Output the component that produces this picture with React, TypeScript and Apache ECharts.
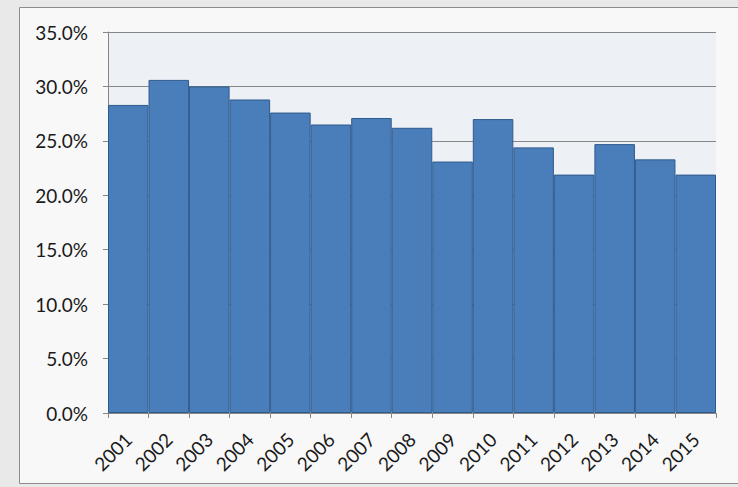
import React, { useEffect, useRef } from "react";
import * as echarts from "echarts";

const years = ["2001","2002","2003","2004","2005","2006","2007","2008","2009","2010","2011","2012","2013","2014","2015"];
const shares = [28.3, 30.6, 30.0, 28.8, 27.6, 26.5, 27.1, 26.2, 23.1, 27.0, 24.4, 21.9, 24.7, 23.3, 21.9];

export default function App() {
  const ref = useRef<HTMLDivElement>(null);
  useEffect(() => {
    const chart = echarts.init(ref.current!, null, { renderer: "svg" });
    chart.setOption({
      animation: false,
      backgroundColor: "#e9e9e9",
      graphic: [
        {
          type: "rect",
          shape: { x: 19.5, y: 7.5, width: 740, height: 476 },
          style: { fill: "#f8f8f8", stroke: "#8c8c8c", lineWidth: 1 },
          z: -10,
        },
      ],
      grid: {
        left: 108,
        top: 32,
        right: 22,
        bottom: 74,
        show: true,
        backgroundColor: "#edf1f6",
        borderWidth: 0,
      },
      xAxis: {
        type: "category",
        data: years,
        axisLine: { lineStyle: { color: "#868686" } },
        axisTick: { show: true, length: 5, lineStyle: { color: "#868686" } },
        axisLabel: {
          rotate: 45,
          interval: 0,
          margin: 23,
          color: "#1a1a1a",
          fontSize: 19,
          fontFamily: "Lato",
        },
      },
      yAxis: {
        type: "value",
        min: 0,
        max: 35,
        interval: 5,
        axisLine: { show: true, lineStyle: { color: "#868686" } },
        axisTick: { show: true, length: 5, lineStyle: { color: "#868686" } },
        splitLine: { lineStyle: { color: "#868686" } },
        axisLabel: {
          formatter: (v: number) => v.toFixed(1) + "%",
          margin: 20,
          color: "#1a1a1a",
          fontSize: 19,
          fontFamily: "Lato",
        },
      },
      series: [
        {
          type: "bar",
          data: shares,
          barCategoryGap: "0%",
          itemStyle: { color: "#4a7ebb", borderColor: "#2f5a8c", borderWidth: 1 },
        },
      ],
    });
    return () => chart.dispose();
  }, []);
  return (
    <div
      ref={ref}
      style={{ position: "fixed", left: 0, top: 0, width: 738, height: 487 }}
    />
  );
}
